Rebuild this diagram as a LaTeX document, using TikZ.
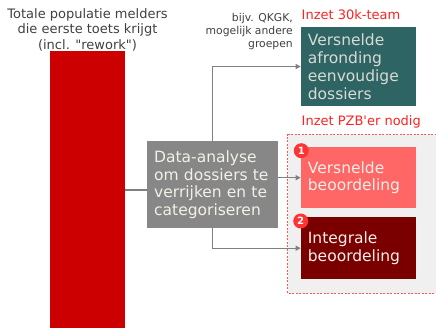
\documentclass[tikz,border=0pt]{standalone}
\usepackage{fontspec}
\setmainfont{DejaVu Sans}[Ligatures=TeXOff]
\usetikzlibrary{arrows.meta,positioning}
\definecolor{barred}{HTML}{CC0000}
\definecolor{boxgray}{HTML}{878787}
\definecolor{teal30}{HTML}{2F6464}
\definecolor{salmon}{HTML}{FF6666}
\definecolor{darkred}{HTML}{7A0000}
\definecolor{labred}{HTML}{FF2222}
\definecolor{dashred}{HTML}{FF5555}
\definecolor{zone}{HTML}{F0F0F0}
\definecolor{linegray}{HTML}{808080}
\definecolor{boxtext}{HTML}{F4F0E8}
\definecolor{titletext}{HTML}{404040}
\definecolor{badgered}{HTML}{FF3333}
\tikzset{
  boxnode/.style={anchor=north west, inner xsep=7pt, inner ysep=0pt, align=left,
    text=boxtext, font=\fontsize{15.5}{17.8}\selectfont},
  conn/.style={draw=linegray, line width=1.1pt},
  arr/.style={conn, -{Triangle[width=5pt,length=5pt]}},
  redlabel/.style={anchor=west, text=labred, inner sep=0pt, font=\fontsize{13}{15}\selectfont},
  badge/.style={circle, fill=badgered, text=white, inner sep=0pt, minimum size=15pt,
    font=\bfseries\fontsize{10}{10}\selectfont}
}
\begin{document}
\begin{tikzpicture}[x=1pt,y=-1pt]
\useasboundingbox (0,0) rectangle (436,328);
% dashed zone
\fill[zone] (287.7,135) rectangle (440,293.3);
\draw[dashred, line width=1pt, dash pattern=on 2pt off 1.5pt] (440,135) -- (287.7,135) -- (287.7,293.3) -- (440,293.3);
% red bar
\node[anchor=north west, fill=barred, minimum width=75pt, minimum height=280pt, inner sep=0pt] (bar) at (50,51) {};
\node[align=center, text=titletext, inner sep=0pt, font=\fontsize{13}{15.5}\selectfont] (title) at (87.5,29.5)
  {Totale populatie melders\\die eerste toets krijgt\\(incl. "rework")};
% boxes
\node[boxnode, fill=boxgray, text width=117pt, minimum height=87pt] (data) at (147,141)
  {Data-analyse\\om dossiers te\\verrijken en te\\categoriseren};
\node[boxnode, fill=teal30, text width=101.3pt, minimum height=79.3pt, text=boxtext!85!teal30] (t30) at (300.7,26.7)
  {Versnelde\\afronding\\eenvoudige\\dossiers};
\node[boxnode, fill=salmon, text width=101.3pt, minimum height=60.4pt] (vb) at (300.7,147.3)
  {Versnelde\\beoordeling};
\node[boxnode, fill=darkred, text width=101.3pt, minimum height=61.4pt] (ib) at (300.7,217.3)
  {Integrale\\beoordeling};
% labels
\node[redlabel] (l30) at (301.5,14.5) {Inzet 30k-team};
\node[redlabel] (lpzb) at (301.5,121.5) {Inzet PZB'er nodig};
\node[anchor=east, align=right, text=titletext, inner sep=0pt, font=\fontsize{10.8}{13}\selectfont] (note) at (293,31.5)
  {bijv. QKGK,\\mogelijk andere\\groepen};
% badges
\node[badge] (b1) at (301.3,150.7) {1};
\node[badge] (b2) at (300.7,221) {2};
% connectors
\coordinate (c190) at (0,190);
\draw[conn] (bar.east |- c190) -- (data.west |- c190);
\draw[arr] (data.north) |- (t30.west);
\draw[arr] (data.east |- vb.west) -- (vb.west);
\draw[arr] (data.south) |- (ib.west);
\end{tikzpicture}
\end{document}
